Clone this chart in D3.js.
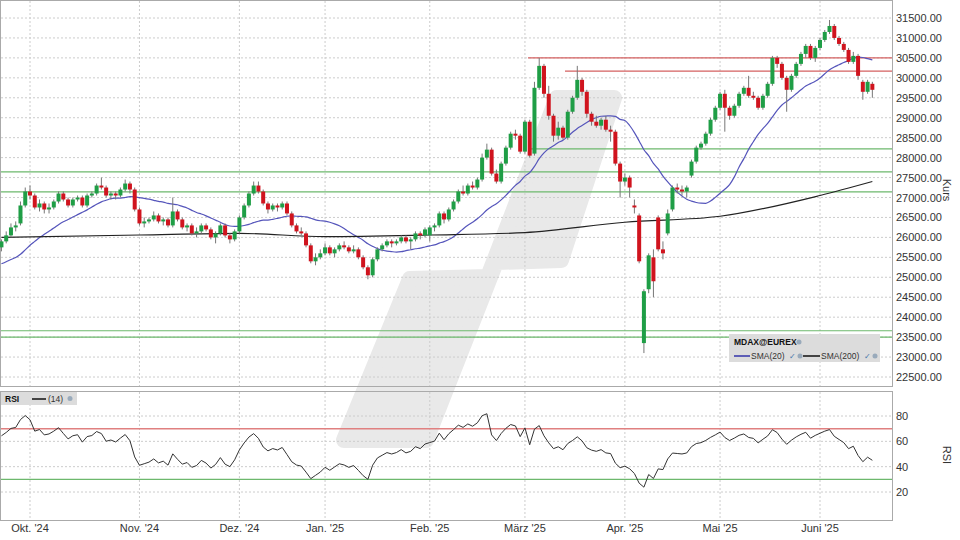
<!DOCTYPE html>
<html><head><meta charset="utf-8">
<script src="https://cdn.jsdelivr.net/npm/d3@7"></script>
<style>body{margin:0;background:#fff}text{font-family:"Liberation Sans",Arial,sans-serif}</style>
</head><body><svg id="c" width="960" height="540"></svg>
<script>
// candles per month: [open, high, low, close]
var candlesSep = [[25750,25950,25650,25900],[25900,26150,25850,26050],[26050,26350,26000,26250],[26250,26400,26150,26300],[26350,26900,26300,26800],[26800,27250,26750,27150]];
var candlesOct = [[27150,27300,26950,27050],[27050,27100,26700,26750],[26750,26950,26650,26850],[26850,26900,26600,26700],[26700,26850,26600,26750],[26750,26950,26700,26900],[26900,27150,26850,27100],[27100,27150,26900,26950],[26950,27000,26750,26800],[26800,27000,26750,26950],[26950,27050,26900,27000],[27000,27050,26750,26800],[26800,27100,26750,27050],[27050,27150,27000,27100],[27100,27350,27050,27300],[27300,27500,27200,27250],[27250,27300,27000,27050],[27050,27150,26950,27100],[27100,27150,26950,27050],[27050,27250,27000,27200],[27200,27450,27150,27350],[27350,27400,27100,27200],[27200,27250,26650,26700]];
var candlesNov = [[26700,26750,26300,26350],[26350,26500,26250,26400],[26400,26500,26350,26450],[26450,26650,26400,26550],[26550,26600,26350,26400],[26400,26500,26300,26450],[26450,26500,26250,26300],[26300,27000,26250,26650],[26650,26700,26400,26450],[26450,26500,26200,26250],[26250,26350,26150,26300],[26300,26350,26050,26100],[26100,26250,26000,26150],[26150,26350,26100,26300],[26300,26350,26150,26200],[26200,26250,25950,26000],[26000,26150,25850,26100],[26100,26350,26050,26300],[26300,26350,26000,26050],[26050,26100,25850,25950],[25950,26200,25900,26150]];
var candlesDec = [[26150,26550,26100,26500],[26500,26850,26450,26800],[26800,27150,26750,27100],[27100,27400,27050,27300],[27300,27400,27100,27150],[27150,27200,26800,26850],[26850,26900,26600,26700],[26700,26850,26650,26800],[26800,26850,26650,26750],[26750,26900,26700,26850],[26850,26900,26550,26600],[26600,26650,26250,26300],[26300,26350,26100,26150],[26150,26250,26050,26100],[26100,26150,25750,25800],[25800,25850,25350,25400],[25400,25600,25300,25500],[25500,25700,25450,25600]];
var candlesJan = [[25600,25850,25550,25750],[25750,25800,25550,25600],[25600,25750,25500,25700],[25700,25850,25650,25800],[25800,25900,25700,25750],[25750,25800,25600,25650],[25650,25800,25600,25700],[25700,25750,25450,25500],[25500,25550,25200,25250],[25250,25300,24950,25050],[25050,25500,25000,25450],[25450,25750,25400,25700],[25700,25850,25650,25800],[25800,25950,25750,25900],[25900,25950,25750,25850],[25850,25950,25800,25900],[25900,26050,25850,26000],[26000,26050,25850,25900],[25900,26000,25700,25950],[25950,26150,25900,26100],[26100,26150,25950,26050],[26050,26250,26000,26200]];
var candlesFeb = [[26050,26300,25900,26250],[26250,26350,26150,26300],[26300,26650,26250,26600],[26600,26650,26350,26450],[26450,26750,26400,26700],[26700,26950,26650,26900],[26900,27200,26850,27150],[27150,27300,27050,27100],[27100,27350,27050,27300],[27300,27400,27200,27250],[27250,27500,27200,27450],[27450,28100,27400,28000],[28000,28350,27950,28200],[28200,28250,27550,27600],[27600,27700,27350,27400],[27400,27900,27350,27850],[27850,28300,27800,28250],[28250,28650,28200,28600],[28600,28700,28450,28550],[28550,28600,28100,28150]];
var candlesMar = [[28150,28950,28100,28900],[28900,28950,28000,28050],[28100,29900,28050,29750],[29750,30500,29700,30300],[30300,30350,29500,29600],[29600,29800,28950,29050],[29050,29100,28400,28550],[28550,28900,28450,28750],[28750,28800,28450,28500],[28500,29200,28450,29150],[29150,29550,29100,29500],[29500,30300,29450,29950],[29950,30000,29550,29650],[29650,29700,29000,29100],[29100,29150,28800,28900],[28900,29050,28750,28800],[28800,29000,28700,28950],[28950,29050,28650,28700],[28700,28800,28400,28650],[28650,28700,27800,27850],[27850,27900,27000,27400]];
var candlesApr = [[27400,27600,27300,27500],[27500,27550,27000,27250],[26800,26950,26600,26750],[26550,26600,25350,25400],[23350,24700,23100,24650],[24700,25600,24600,25550],[25500,25700,24500,24900],[26500,26550,25650,25700],[25700,25900,25450,25600],[26100,26700,26050,26600],[26700,27300,26650,27250],[27250,27350,27100,27200],[27200,27300,27050,27150],[27150,27300,27000,27250],[27550,27950,27500,27900],[27900,28300,27850,28250],[28250,28400,28200,28350],[28350,28650,28300,28600],[28600,29000,28550,28950],[28950,29300,28900,29250]];
var candlesMay = [[29250,29650,29200,29600],[29600,29700,28650,29250],[29250,29300,28950,29050],[29050,29350,29000,29300],[29300,29650,29250,29600],[29600,29800,29550,29750],[29750,30050,29500,29550],[29550,29650,29450,29500],[29500,29550,29200,29250],[29250,29600,29200,29550],[29550,29900,29500,29850],[29850,30550,29800,30500],[30500,30550,30250,30350],[30350,30400,29950,30000],[30000,30050,29150,29700],[29700,30100,29650,30050],[30050,30400,30000,30350],[30350,30650,30300,30600],[30600,30850,30500,30800],[30800,30850,30450,30500],[30500,30800,30400,30750]];
var candlesJun = [[30750,31000,30700,30950],[30950,31200,30900,31150],[31150,31450,31100,31300],[31300,31350,30950,31000],[31000,31050,30800,30850],[30850,30900,30650,30700],[30700,30750,30350,30400],[30400,30650,30350,30550],[30550,30600,29950,30050],[29900,29950,29450,29650],[29650,29950,29600,29900],[29850,29900,29500,29700]];
// closes before the visible range (for SMA20 / RSI warmup)
var priorCloses = [25100,25000,25150,25300,25200,24900,24750,24800,24950,25050,25200,25350,25400,25500,25650,25700,25800,25600,25850,25700];
// SMA(200) read at [bar index, value]
var sma200 = [[0,26000],[29,26060],[50,26100],[68,26020],[90,26060],[110,26120],[131,26380],[151,26530],[172,27050],[183,27400]];
var monthLabels = ["", "Okt. '24", "Nov. '24", "Dez. '24", "Jan. '25", "Feb. '25", "März '25", "Apr. '25", "Mai '25", "Juni '25"];
var months = [candlesSep, candlesOct, candlesNov, candlesDec, candlesJan, candlesFeb, candlesMar, candlesApr, candlesMay, candlesJun];
var priceTicks = [22500,23000,23500,24000,24500,25000,25500,26000,26500,27000,27500,28000,28500,29000,29500,30000,30500,31000,31500];
var rsiTicks = [20,40,60,80];
var greenLevels = [28220, 27640, 27140, 23660, 23500];
var redLevels = [[30500, 528], [30170, 565]];

var svg = d3.select("#c");
var data = [], monthStart = [];
months.forEach(function (m) { monthStart.push(data.length); m.forEach(function (c) { data.push(c); }); });

var x = d3.scaleLinear().domain([6, 172]).range([30, 820]);
var y = d3.scaleLinear().domain([22500, 31500]).range([377, 18]);
var yr = d3.scaleLinear().domain([20, 80]).range([492, 416]);
var W = 892;

// watermark
svg.append("path")
  .attr("d", "M557,98 L614,98 L561,260 L496,262 L426,440 L344,440 L410,279 L488,277 Z")
  .attr("fill", "#e9e9e9").attr("stroke", "#e9e9e9").attr("stroke-width", 16).attr("stroke-linejoin", "round");

// panels
svg.append("rect").attr("x", 0.5).attr("y", 0.5).attr("width", W).attr("height", 386).attr("fill", "none").attr("stroke", "#aaa");
svg.append("rect").attr("x", 0.5).attr("y", 391.5).attr("width", W).attr("height", 129).attr("fill", "none").attr("stroke", "#aaa");

var grid = svg.append("g").attr("stroke", "#ccc").attr("stroke-dasharray", "2,2");
priceTicks.forEach(function (t) { grid.append("line").attr("x1", 1).attr("x2", W).attr("y1", y(t)).attr("y2", y(t)); });
rsiTicks.forEach(function (t) { grid.append("line").attr("x1", 1).attr("x2", W).attr("y1", yr(t)).attr("y2", yr(t)); });
monthStart.forEach(function (s, i) {
  if (!i) return;
  grid.append("line").attr("x1", x(s)).attr("x2", x(s)).attr("y1", 1).attr("y2", 386);
  grid.append("line").attr("x1", x(s)).attr("x2", x(s)).attr("y1", 392).attr("y2", 520);
  svg.append("text").attr("x", x(s)).attr("y", 532).attr("text-anchor", "middle").attr("font-size", 11).attr("fill", "#333").text(monthLabels[i]);
});

priceTicks.forEach(function (t) {
  svg.append("text").attr("x", 896).attr("y", y(t) + 4).attr("font-size", 11).attr("fill", "#333").text(t.toFixed(2));
});
rsiTicks.forEach(function (t) {
  svg.append("text").attr("x", 896).attr("y", yr(t) + 4).attr("font-size", 11).attr("fill", "#333").text(t);
});
svg.append("text").attr("transform", "translate(943,190) rotate(90)").attr("text-anchor", "middle").attr("font-size", 11).attr("fill", "#333").text("Kurs");
svg.append("text").attr("transform", "translate(943,455) rotate(90)").attr("text-anchor", "middle").attr("font-size", 11).attr("fill", "#333").text("RSI");

// levels
greenLevels.forEach(function (v, i) {
  svg.append("line").attr("x1", i === 0 ? 528 : 1).attr("x2", W).attr("y1", y(v)).attr("y2", y(v)).attr("stroke", "#6db86d").attr("stroke-width", 1.2);
});
redLevels.forEach(function (r) {
  svg.append("line").attr("x1", r[1]).attr("x2", W).attr("y1", y(r[0])).attr("y2", y(r[0])).attr("stroke", "#d46060").attr("stroke-width", 1.2);
});

// SMA20
var closes = priorCloses.concat(data.map(function (d) { return d[3]; }));
var off = priorCloses.length;
var sma20 = data.map(function (d, i) { return d3.mean(closes.slice(i + off - 19, i + off + 1)); });
svg.append("path").attr("d", d3.line().x(function (d, i) { return x(i); }).y(function (d) { return y(d); }).curve(d3.curveMonotoneX)(sma20))
  .attr("fill", "none").attr("stroke", "#5555bb").attr("stroke-width", 1.2);
svg.append("path").attr("d", d3.line().x(function (d) { return x(d[0]); }).y(function (d) { return y(d[1]); }).curve(d3.curveMonotoneX)(sma200))
  .attr("fill", "none").attr("stroke", "#222").attr("stroke-width", 1.2);

// candles
var cg = svg.append("g");
data.forEach(function (d, i) {
  var up = d[3] >= d[0];
  cg.append("line").attr("x1", x(i)).attr("x2", x(i)).attr("y1", y(d[1])).attr("y2", y(d[2])).attr("stroke", "#777").attr("stroke-width", 1);
  var top = y(Math.max(d[0], d[3])), bot = y(Math.min(d[0], d[3]));
  cg.append("rect").attr("x", x(i) - 2).attr("y", top).attr("width", 4).attr("height", Math.max(1, bot - top))
    .attr("fill", up ? "#1f9e46" : "#d0141e");
});

// RSI(14), Wilder
var gain = 0, loss = 0, rsi = [];
for (var k = 1; k < closes.length; k++) {
  var ch = closes[k] - closes[k - 1];
  var g = Math.max(ch, 0), l = Math.max(-ch, 0);
  if (k <= 14) { gain += g / 14; loss += l / 14; }
  else { gain = (gain * 13 + g) / 14; loss = (loss * 13 + l) / 14; }
  if (k >= off) rsi.push(loss === 0 ? 100 : 100 - 100 / (1 + gain / loss));
}
svg.append("line").attr("x1", 1).attr("x2", W).attr("y1", yr(70)).attr("y2", yr(70)).attr("stroke", "#e08080").attr("stroke-width", 1.5);
svg.append("line").attr("x1", 1).attr("x2", W).attr("y1", yr(30)).attr("y2", yr(30)).attr("stroke", "#6db86d").attr("stroke-width", 1.2);
svg.append("path").attr("d", d3.line().x(function (d, i) { return x(i); }).y(function (d) { return yr(d); })(rsi))
  .attr("fill", "none").attr("stroke", "#333").attr("stroke-width", 1);

// legend
var lg = svg.append("g");
lg.append("rect").attr("x", 729).attr("y", 334).attr("width", 151).attr("height", 28).attr("fill", "#dcdcdc");
lg.append("text").attr("x", 734).attr("y", 345).attr("font-size", 8.5).attr("font-weight", "bold").attr("fill", "#111").text("MDAX@EUREX");
lg.append("circle").attr("cx", 799).attr("cy", 342).attr("r", 2.5).attr("fill", "#9ab");
lg.append("line").attr("x1", 734).attr("x2", 750).attr("y1", 356).attr("y2", 356).attr("stroke", "#3333aa").attr("stroke-width", 1.5);
lg.append("text").attr("x", 751).attr("y", 359).attr("font-size", 8.5).attr("fill", "#333").text("SMA(20)");
lg.append("text").attr("x", 789).attr("y", 359).attr("font-size", 8).attr("fill", "#47a").text("✓");
lg.append("circle").attr("cx", 800).attr("cy", 356).attr("r", 2.5).attr("fill", "#9ab");
lg.append("line").attr("x1", 803).attr("x2", 820).attr("y1", 356).attr("y2", 356).attr("stroke", "#111").attr("stroke-width", 1.5);
lg.append("text").attr("x", 821).attr("y", 359).attr("font-size", 8.5).attr("fill", "#333").text("SMA(200)");
lg.append("text").attr("x", 864).attr("y", 359).attr("font-size", 8).attr("fill", "#47a").text("✓");
lg.append("circle").attr("cx", 875).attr("cy", 356).attr("r", 2.5).attr("fill", "#9ab");

var rl = svg.append("g");
rl.append("rect").attr("x", 1).attr("y", 392).attr("width", 76).attr("height", 13).attr("fill", "#dcdcdc");
rl.append("text").attr("x", 5).attr("y", 402).attr("font-size", 8.5).attr("font-weight", "bold").attr("fill", "#111").text("RSI");
rl.append("line").attr("x1", 32).attr("x2", 46).attr("y1", 399).attr("y2", 399).attr("stroke", "#111").attr("stroke-width", 1.5);
rl.append("text").attr("x", 48).attr("y", 402).attr("font-size", 8.5).attr("fill", "#333").text("(14)");
rl.append("circle").attr("cx", 70).attr("cy", 398.5).attr("r", 2.5).attr("fill", "#9ab");
</script></body></html>
